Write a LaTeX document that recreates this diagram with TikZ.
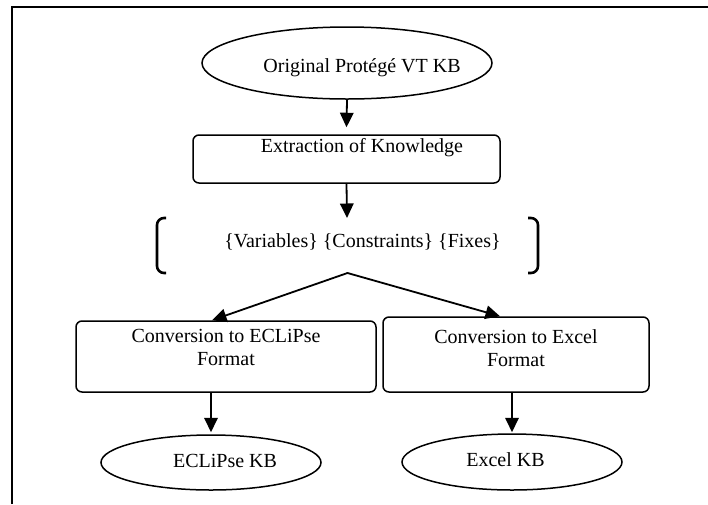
\documentclass[tikz,border=0pt]{standalone}
\usepackage{fontspec}
\setmainfont{Liberation Serif}
\usetikzlibrary{shapes.geometric,arrows.meta}
\begin{document}
\begin{tikzpicture}[x=1pt,y=-1pt,
  outline/.style={draw, line width=1.5pt, inner sep=0pt},
  roundbox/.style={outline, rectangle, rounded corners=6pt},
  oval/.style={outline, ellipse},
  txt/.style={font=\fontsize{20}{23}\selectfont, inner sep=0pt},
  arr/.style={line width=1.8pt, line cap=round, -{Triangle[length=14.5pt,width=13.5pt]}},
  brk/.style={line width=2.6pt, rounded corners=7pt},
]
\useasboundingbox (0,0) rectangle (708,504);
% frame (top and left edges only)
\draw[line width=2pt] (12,504) -- (12,7) -- (708,7);

% shapes
\node[oval, minimum width=290pt, minimum height=72pt] (orig) at (347,63) {};
\node[roundbox, minimum width=307pt, minimum height=48pt] (ext) at (346.5,159) {};
\node[roundbox, minimum width=300pt, minimum height=71pt] (lconv) at (226,356.5) {};
\node[roundbox, minimum width=266pt, minimum height=75pt] (rconv) at (516,354.5) {};
\node[oval, minimum width=220pt, minimum height=55pt] (ecl) at (211,462.5) {};
\node[oval, minimum width=220pt, minimum height=56pt] (exc) at (512,462) {};

% brackets
\draw[brk] (166,218) -- (157,218) -- (157,273) -- (166,273);
\draw[brk] (528,218) -- (538,218) -- (538,273) -- (528,273);
\coordinate (brtop) at (347,218);
\coordinate (apex) at (347.5,273);

% texts
\node[txt, anchor=base] (origt) at (362,72) {Original Protégé VT KB};
\node[txt, anchor=base] (extt) at (362,152.5) {Extraction of Knowledge};
\node[txt, anchor=base] (vars) at (362.5,247.5) {\{Variables\} \{Constraints\} \{Fixes\}};
\node[txt, anchor=north, align=center] (lconvt) at (226,329) {Conversion to ECLiPse\\Format};
\node[txt, anchor=north, align=center] (rconvt) at (516,329) {Conversion to Excel\\Format};
\node[txt, anchor=base] (eclt) at (225,467) {ECLiPse KB};
\node[txt, anchor=base] (exct) at (505.5,466) {Excel KB};

% connectors
\draw[arr] (orig.south) -- ([yshift=7pt]ext.north);
\draw[arr] (ext.south) -- (brtop);
\draw[arr] (apex) -- ([xshift=-14pt]lconv.north);
\draw[arr] (apex) -- ([xshift=-16pt]rconv.north);
\draw[arr] (ecl.north |- lconv.south) -- ([yshift=2pt]ecl.north);
\draw[arr] (exc.north |- rconv.south) -- ([yshift=1pt]exc.north);
\end{tikzpicture}
\end{document}
